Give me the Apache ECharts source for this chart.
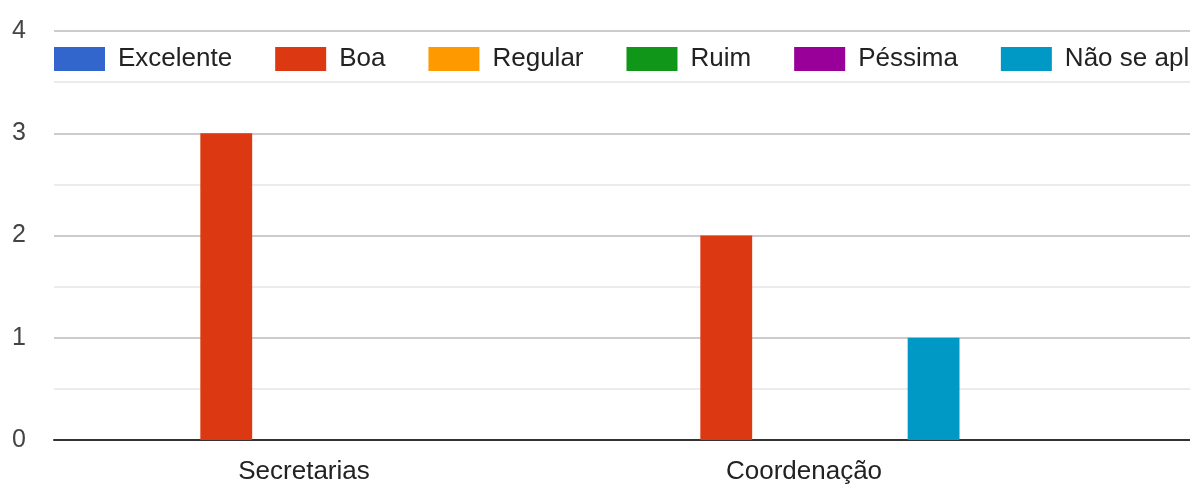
<!DOCTYPE html>
<html>
<head>
<meta charset="utf-8">
<script src="https://cdn.jsdelivr.net/npm/echarts@6/dist/echarts.min.js"></script>
<style>
html,body{margin:0;padding:0;overflow:hidden;background:#fff;width:1190px;height:485px;}
#c{width:1600px;height:485px;}
</style>
</head>
<body>
<div id="c"></div>
<script>
const categories = ["Secretarias", "Coordenação", ""];
const seriesNames = ["Excelente", "Boa", "Regular", "Ruim", "Péssima", "Não se aplica"];
const excelente = [0, 0, 0];
const boa = [3, 2, 0];
const regular = [0, 0, 0];
const ruim = [0, 0, 0];
const pessima = [0, 0, 0];
const naoSeAplica = [0, 1, 0];
const colors = ["#3366cc", "#dc3912", "#ff9900", "#109618", "#990099", "#0099c6"];
const values = [excelente, boa, regular, ruim, pessima, naoSeAplica];

const chart = echarts.init(document.getElementById('c'), null, {renderer: 'canvas'});
chart.setOption({
  animation: false,
  color: colors,
  textStyle: {fontFamily: 'Liberation Sans, Arial, sans-serif'},
  legend: {
    left: 54, top: 46, padding: 0,
    itemWidth: 51, itemHeight: 24, itemGap: 43,
    icon: 'rect',
    textStyle: {fontSize: 26, color: '#222', padding: [0, 0, 0, 8], fontFamily: 'Liberation Sans, Arial, sans-serif'},
    data: seriesNames
  },
  grid: {left: 54, right: 46, top: 31, bottom: 43, containLabel: false},
  xAxis: {
    type: 'category',
    data: categories,
    axisTick: {show: false},
    axisLine: {lineStyle: {color: '#333', width: 2}},
    axisLabel: {fontSize: 26, color: '#222', margin: 19, fontFamily: 'Liberation Sans, Arial, sans-serif'}
  },
  yAxis: {
    type: 'value',
    min: 0, max: 4, interval: 1,
    axisLine: {show: false},
    axisTick: {show: false},
    axisLabel: {fontSize: 25, color: '#444', margin: 28, fontFamily: 'Liberation Sans, Arial, sans-serif'},
    splitLine: {lineStyle: {color: '#cccccc', width: 2}},
    minorTick: {show: false, splitNumber: 2},
    minorSplitLine: {show: true, lineStyle: {color: '#ebebeb', width: 2}}
  },
  series: seriesNames.map((n, i) => ({
    name: n,
    type: 'bar',
    data: values[i],
    barGap: '0%',
    barCategoryGap: '37.8%'
  }))
});
</script>
</body>
</html>
